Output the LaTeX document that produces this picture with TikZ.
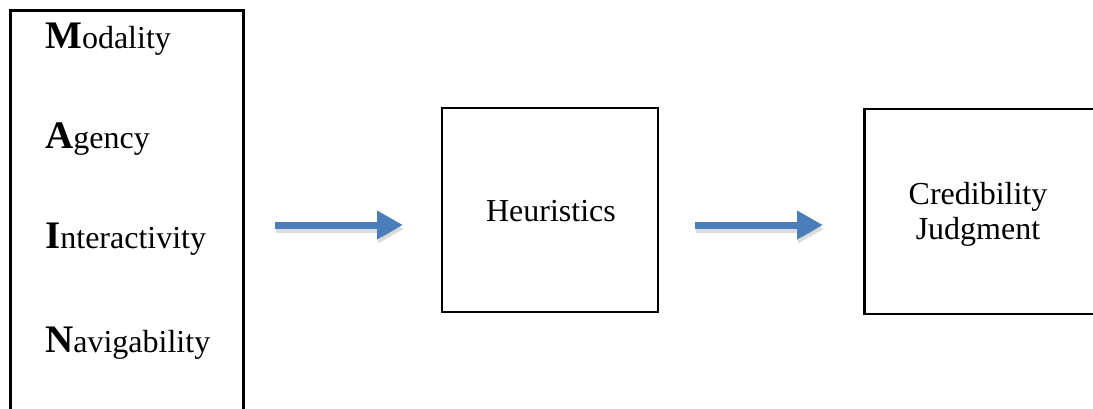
\documentclass[tikz,border=0pt]{standalone}
\usepackage{fontspec}
\setmainfont{Liberation Serif}
\usetikzlibrary{arrows.meta}
\definecolor{arrowblue}{RGB}{74,126,187}
\tikzset{
  box/.style={draw=black, line width=2.5pt, rectangle, inner sep=0pt},
  lbl/.style={inner sep=0pt, font=\fontsize{32}{35}\selectfont},
  flow/.style={draw=arrowblue, line width=7pt, -{Triangle[length=26pt,width=27pt]}},
  flowshadow/.style={draw=black!45, opacity=0.3, line width=7pt, -{Triangle[length=26pt,width=27pt]}},
}
\newcommand{\initial}[1]{{\fontsize{39}{39}\selectfont\bfseries #1}}
\begin{document}
\begin{tikzpicture}[x=1pt,y=-1pt]
\useasboundingbox (0,0) rectangle (1093,408);
% boxes
\node[box, minimum width=233pt, minimum height=430pt, anchor=north west] (src) at (9,9) {};
\node[box, minimum width=216pt, minimum height=204pt] (heur) at (550,210) {};
\node[box, minimum width=260pt, minimum height=205pt, anchor=north west] (cred) at (863,107.5) {};
% texts in left box
\node[lbl, anchor=base west] (tm) at (45,48) {\initial{M}odality};
\node[lbl, anchor=base west] (ta) at (45,148) {\initial{A}gency};
\node[lbl, anchor=base west] (ti) at (45,248) {\initial{I}nteractivity};
\node[lbl, anchor=base west] (tn) at (45,352) {\initial{N}avigability};
% box labels
\node[lbl, anchor=base] (th) at (551,221) {Heuristics};
\node[lbl, anchor=center, align=center] (tc) at (978,214) {Credibility\\Judgment};
% arrow end points
\coordinate (a1s) at (275,225);
\coordinate (a1e) at (403,225);
\coordinate (a2s) at (695,225);
\coordinate (a2e) at (823,225);
\coordinate (a1ss) at (276,229);
\coordinate (a1es) at (404,229);
\coordinate (a2ss) at (696,229);
\coordinate (a2es) at (824,229);
\draw[flowshadow] (a1ss) -- (a1es);
\draw[flowshadow] (a2ss) -- (a2es);
\draw[flow] (a1s) -- (a1e);
\draw[flow] (a2s) -- (a2e);
\end{tikzpicture}
\end{document}
